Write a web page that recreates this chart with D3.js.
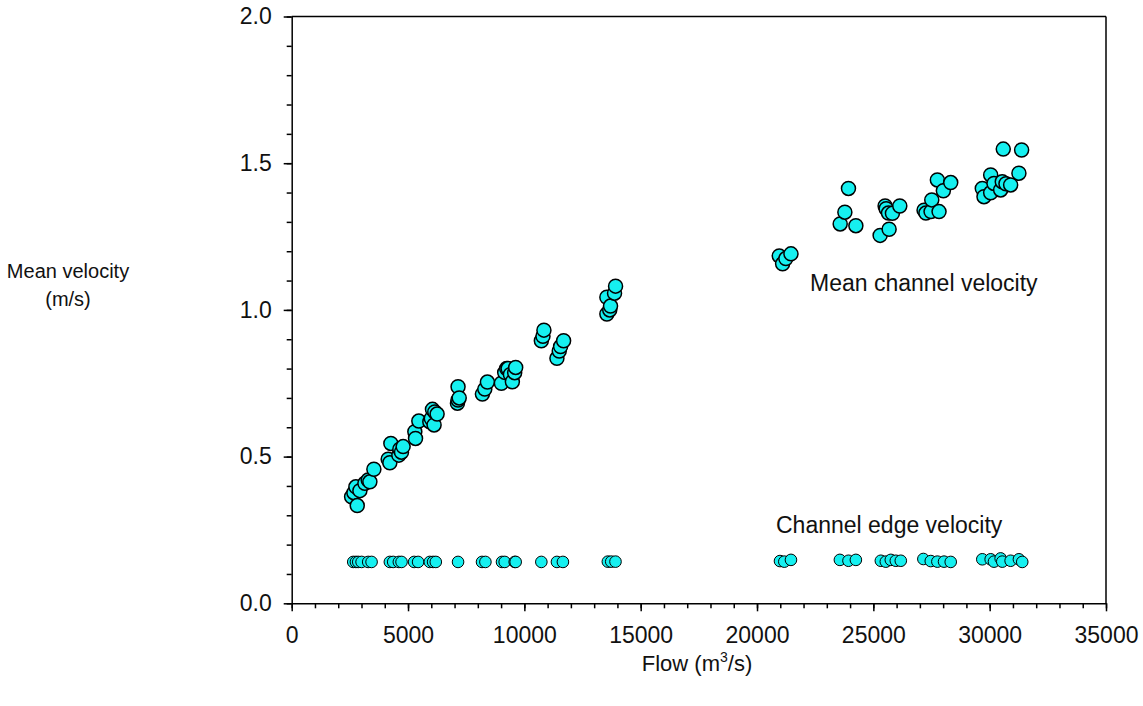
<!DOCTYPE html>
<html>
<head>
<meta charset="utf-8">
<script src="https://cdn.jsdelivr.net/npm/d3@7/dist/d3.min.js"></script>
<style>
  body { margin: 0; background: #fff; }
  text { font-family: Arial, "Liberation Sans", sans-serif; fill: #111; }
</style>
</head>
<body>
<div id="chart"></div>
<script>
// mean channel velocity (flow m3/s, velocity m/s)
var meanFlow = [2575, 2674, 2760, 2817, 2931, 3146, 3288, 3360, 3532,
    4147, 4219, 4262, 4605, 4648, 4719, 4790,
    5292, 5322, 5464, 5936, 6000, 6050, 6120, 6150, 6250,
    7124, 7150, 7150, 7200, 8197, 8300, 8412,
    9013, 9155, 9240, 9300, 9400, 9485, 9584, 9627,
    10730, 10800, 10841, 11400, 11500, 11558, 11687,
    13546, 13546, 13670, 13704, 13876, 13920,
    20957, 21100, 21240, 21459,
    23575, 23776, 23931, 24249,
    25292, 25506, 25550, 25650, 25678, 25820, 26137,
    27180, 27260, 27480, 27511, 27752, 27824, 28009, 28326,
    29683, 29756, 30043, 30043, 30185, 30472, 30541, 30584, 30700, 30901, 31257, 31373];
var meanVel = [0.363, 0.377, 0.397, 0.333, 0.384, 0.409, 0.420, 0.414, 0.457,
    0.491, 0.479, 0.545, 0.505, 0.525, 0.515, 0.534,
    0.585, 0.562, 0.621, 0.619, 0.630, 0.661, 0.608, 0.652, 0.645,
    0.682, 0.693, 0.738, 0.700, 0.713, 0.730, 0.754,
    0.750, 0.787, 0.800, 0.800, 0.780, 0.755, 0.786, 0.804,
    0.895, 0.910, 0.931, 0.835, 0.860, 0.875, 0.895,
    1.043, 0.986, 1.000, 1.013, 1.057, 1.081,
    1.184, 1.157, 1.175, 1.191,
    1.293, 1.333, 1.414, 1.287,
    1.254, 1.354, 1.345, 1.330, 1.275, 1.329, 1.354,
    1.340, 1.330, 1.335, 1.375, 1.443, 1.335, 1.406, 1.434,
    1.414, 1.386, 1.460, 1.399, 1.431, 1.409, 1.437, 1.548, 1.430, 1.426, 1.466, 1.545];

// channel edge velocity
var edgeFlow = [2645, 2760, 2860, 3004, 3288, 3433, 4219, 4362, 4605, 4721,
    5262, 5433, 5936, 6077, 6193, 7150, 8180, 8326, 9039, 9155, 9584, 9627,
    10730, 11400, 11657, 13588, 13734, 13918,
    20987, 21172, 21459, 23562, 23931, 24249,
    25322, 25536, 25751, 25966, 26180,
    27150, 27468, 27752, 28039, 28326,
    29683, 30043, 30185, 30472, 30541, 30901, 31257, 31400];
var edgeVel = [0.141, 0.141, 0.141, 0.141, 0.141, 0.141, 0.141, 0.141, 0.141, 0.141,
    0.141, 0.141, 0.141, 0.141, 0.141, 0.141, 0.141, 0.141, 0.141, 0.141, 0.141, 0.141,
    0.141, 0.141, 0.141, 0.142, 0.142, 0.142,
    0.144, 0.142, 0.148, 0.148, 0.145, 0.148,
    0.145, 0.142, 0.148, 0.145, 0.145,
    0.151, 0.144, 0.142, 0.142, 0.141,
    0.150, 0.150, 0.142, 0.153, 0.142, 0.145, 0.150, 0.141];

var xMajor = [0, 5000, 10000, 15000, 20000, 25000, 30000, 35000];
var yMajor = [0.0, 0.5, 1.0, 1.5, 2.0];

var width = 1143, height = 706;
var margin = { top: 16.5, right: 37, bottom: 102.7, left: 291.7 };
var w = width - margin.left - margin.right;
var h = height - margin.top - margin.bottom;
var fs = "23px";

var svg = d3.select("#chart").append("svg")
    .attr("width", width)
    .attr("height", height);

var g = svg.append("g")
    .attr("transform", "translate(" + margin.left + "," + margin.top + ")");

var x = d3.scaleLinear().domain([0, 35000]).range([0, w]);
var y = d3.scaleLinear().domain([0, 2]).range([h, 0]);

// minor ticks first
g.append("g")
    .attr("transform", "translate(0," + h + ")")
    .call(d3.axisBottom(x).tickValues(d3.range(0, 35001, 1000)).tickSize(5).tickSizeOuter(0).tickFormat(""))
    .call(s => s.select(".domain").remove());
g.append("g")
    .call(d3.axisLeft(y).tickValues(d3.range(0, 21).map(d => d / 10)).tickSize(5).tickSizeOuter(0).tickFormat(""))
    .call(s => s.select(".domain").remove());

// major ticks with labels
var xAxis = g.append("g")
    .attr("transform", "translate(0," + h + ")")
    .call(d3.axisBottom(x).tickValues(xMajor).tickSize(8).tickSizeOuter(0).tickPadding(15).tickFormat(d3.format("d")));
var yAxis = g.append("g")
    .call(d3.axisLeft(y).tickValues(yMajor).tickSize(8).tickSizeOuter(0).tickPadding(12).tickFormat(d3.format(".1f")));

g.selectAll(".tick line").attr("stroke", "#000").attr("stroke-width", 1.5);
g.selectAll(".domain").attr("stroke", "#000").attr("stroke-width", 1.5);
g.selectAll(".tick text").style("font-size", fs).attr("fill", "#111")
    .style("font-family", "Arial, 'Liberation Sans', sans-serif");

// top and right frame
g.append("line").attr("x1", 0).attr("x2", w).attr("y1", 0).attr("y2", 0)
    .attr("stroke", "#000").attr("stroke-width", 1.5);
g.append("line").attr("x1", w).attr("x2", w).attr("y1", 0).attr("y2", h)
    .attr("stroke", "#000").attr("stroke-width", 1.5);

// points
var meanData = meanFlow.map((f, i) => ({ f: f, v: meanVel[i] }));
var edgeData = edgeFlow.map((f, i) => ({ f: f, v: edgeVel[i] }));

g.append("g").selectAll("circle")
    .data(meanData)
    .enter().append("circle")
    .attr("cx", d => x(d.f))
    .attr("cy", d => y(d.v))
    .attr("r", 7)
    .attr("fill", "#16f0f0")
    .attr("stroke", "#000")
    .attr("stroke-width", 1.5);

g.append("g").selectAll("circle")
    .data(edgeData)
    .enter().append("circle")
    .attr("cx", d => x(d.f))
    .attr("cy", d => y(d.v))
    .attr("r", 5.8)
    .attr("fill", "#16f0f0")
    .attr("stroke", "#000")
    .attr("stroke-width", 1);

// annotations
svg.append("text").attr("x", 810).attr("y", 291).style("font-size", fs)
    .text("Mean channel velocity");
svg.append("text").attr("x", 776).attr("y", 533).style("font-size", fs)
    .text("Channel edge velocity");

// axis titles
svg.append("text").attr("x", 68).attr("y", 278).attr("text-anchor", "middle")
    .style("font-size", "20px").text("Mean velocity");
svg.append("text").attr("x", 68).attr("y", 306).attr("text-anchor", "middle")
    .style("font-size", "20px").text("(m/s)");

var xt = svg.append("text").attr("x", 697).attr("y", 671).attr("text-anchor", "middle")
    .style("font-size", "22px");
xt.append("tspan").text("Flow (m");
xt.append("tspan").attr("dy", -9).style("font-size", "14px").text("3");
xt.append("tspan").attr("dy", 9).text("/s)");
</script>
</body>
</html>
